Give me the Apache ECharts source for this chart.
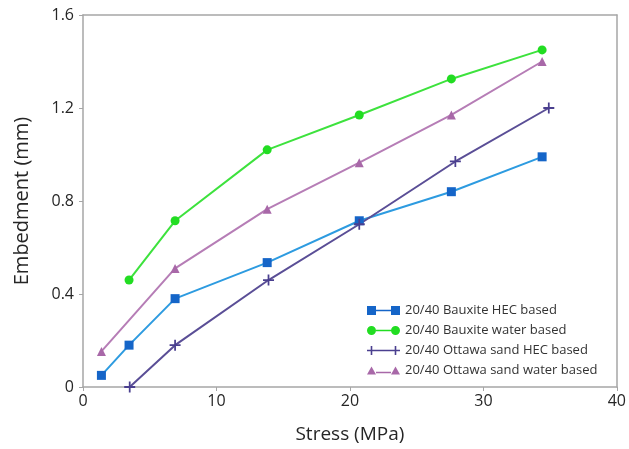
<!DOCTYPE html>
<html>
<head>
<meta charset="utf-8">
<script src="https://cdn.jsdelivr.net/npm/echarts@6/dist/echarts.min.js"></script>
<style>
  html, body { margin: 0; padding: 0; background: #fff; }
  #chart { width: 629px; height: 449px; }
</style>
</head>
<body>
<div id="chart"></div>
<script>
// stress (MPa) and embedment (mm)
var bauxiteHec = [[1.38, 0.05], [3.45, 0.18], [6.9, 0.38], [13.8, 0.535], [20.7, 0.715], [27.6, 0.84], [34.4, 0.99]]
var bauxiteWater = [[3.45, 0.46], [6.9, 0.715], [13.8, 1.02], [20.7, 1.17], [27.6, 1.325], [34.4, 1.45]]
var ottawaHec = [[3.5, 0], [6.9, 0.18], [13.9, 0.46], [20.7, 0.70], [27.9, 0.97], [34.9, 1.2]]
var ottawaWater = [[1.38, 0.153], [6.9, 0.51], [13.8, 0.765], [20.7, 0.965], [27.6, 1.17], [34.4, 1.4]]

var names = [
  '20/40 Bauxite HEC based',
  '20/40 Bauxite water based',
  '20/40 Ottawa sand HEC based',
  '20/40 Ottawa sand water based'
]
var xTicks = [0, 10, 20, 30, 40]
var yTicks = [0, 0.4, 0.8, 1.2, 1.6]

var font = '"Open Sans", "DejaVu Sans", sans-serif'
var frame = '#a6a6a6'

var plusPath = 'path://M4.2,0h1.6v10h-1.6zM0,4.2h10v1.6h-10z'
var icons = [
  'path://M0,0h9v9h-9zM9,3.7h15v1.6h-15zM24,0h9v9h-9z',
  'path://M0,4.5a4.5,4.5 0 1,0 9,0a4.5,4.5 0 1,0 -9,0zM9,3.7h15v1.6h-15zM24,4.5a4.5,4.5 0 1,0 9,0a4.5,4.5 0 1,0 -9,0z',
  'path://M0,3.7h33v1.6h-33zM3.7,0h1.6v9h-1.6zM27.7,0h1.6v9h-1.6z',
  'path://M0,9l4.5,-8l4.5,8zM9,6.2h15v1.6h-15zM24,9l4.5,-8l4.5,8z'
]

var chart = echarts.init(document.getElementById('chart'))

function mkSeries(name, data, lineColor, markColor, symbol, size) {
  return {
    name: name,
    type: 'line',
    data: data,
    symbol: symbol,
    symbolSize: size,
    showAllSymbol: true,
    lineStyle: { color: lineColor, width: 2 },
    itemStyle: { color: markColor },
    emphasis: { disabled: true },
    z: 3
  }
}

var option = {
  backgroundColor: '#fff',
  animation: false,
  textStyle: { fontFamily: font },
  grid: {
    left: 83,
    right: 7,
    top: 15,
    bottom: 57,
    show: false
  },
  legend: {
    orient: 'vertical',
    left: 362,
    top: 299,
    itemWidth: 33,
    itemHeight: 9,
    itemGap: 7,
    textStyle: { fontSize: 13, color: '#333', fontFamily: font },
    data: names.map(function (n, i) { return { name: n, icon: icons[i] } })
  },
  xAxis: [{
    type: 'value',
    min: xTicks[0],
    max: xTicks[xTicks.length - 1],
    interval: 10,
    name: 'Stress (MPa)',
    nameLocation: 'middle',
    nameGap: 38,
    nameTextStyle: { fontSize: 19, color: '#262626' },
    axisLine: { onZero: false, lineStyle: { color: frame, width: 1.5 } },
    axisTick: { show: true, length: 4, lineStyle: { color: frame } },
    axisLabel: { fontSize: 16, color: '#262626', margin: 6 },
    splitLine: { show: false }
  }, {
    // top edge of the frame
    type: 'value',
    position: 'top',
    min: xTicks[0],
    max: xTicks[xTicks.length - 1],
    axisLine: { show: true, onZero: false, lineStyle: { color: frame, width: 1.5 } },
    axisTick: { show: false },
    axisLabel: { show: false },
    splitLine: { show: false }
  }],
  yAxis: [{
    type: 'value',
    min: yTicks[0],
    max: yTicks[yTicks.length - 1],
    interval: 0.4,
    name: 'Embedment (mm)',
    nameLocation: 'middle',
    nameGap: 51,
    nameTextStyle: { fontSize: 20, color: '#262626' },
    axisLine: { show: true, onZero: false, lineStyle: { color: frame, width: 1.5 } },
    axisTick: { show: true, length: 4, lineStyle: { color: frame } },
    axisLabel: {
      fontSize: 16,
      color: '#262626',
      margin: 9,
      formatter: function (v) { return v === 0 ? '0' : v.toFixed(1) }
    },
    splitLine: { show: false }
  }, {
    // right edge of the frame
    type: 'value',
    position: 'right',
    min: yTicks[0],
    max: yTicks[yTicks.length - 1],
    axisLine: { show: true, onZero: false, lineStyle: { color: frame, width: 1.5 } },
    axisTick: { show: false },
    axisLabel: { show: false },
    splitLine: { show: false }
  }],
  series: [
    mkSeries(names[0], bauxiteHec, '#2d9be0', '#1565c8', 'rect', 9),
    mkSeries(names[1], bauxiteWater, '#3de23d', '#22dd22', 'circle', 9),
    mkSeries(names[2], ottawaHec, '#5a4e96', '#4a3f8f', plusPath, 11),
    mkSeries(names[3], ottawaWater, '#b67db6', '#a868a8', 'triangle', 9)
  ]
}

chart.setOption(option)
</script>
</body>
</html>
